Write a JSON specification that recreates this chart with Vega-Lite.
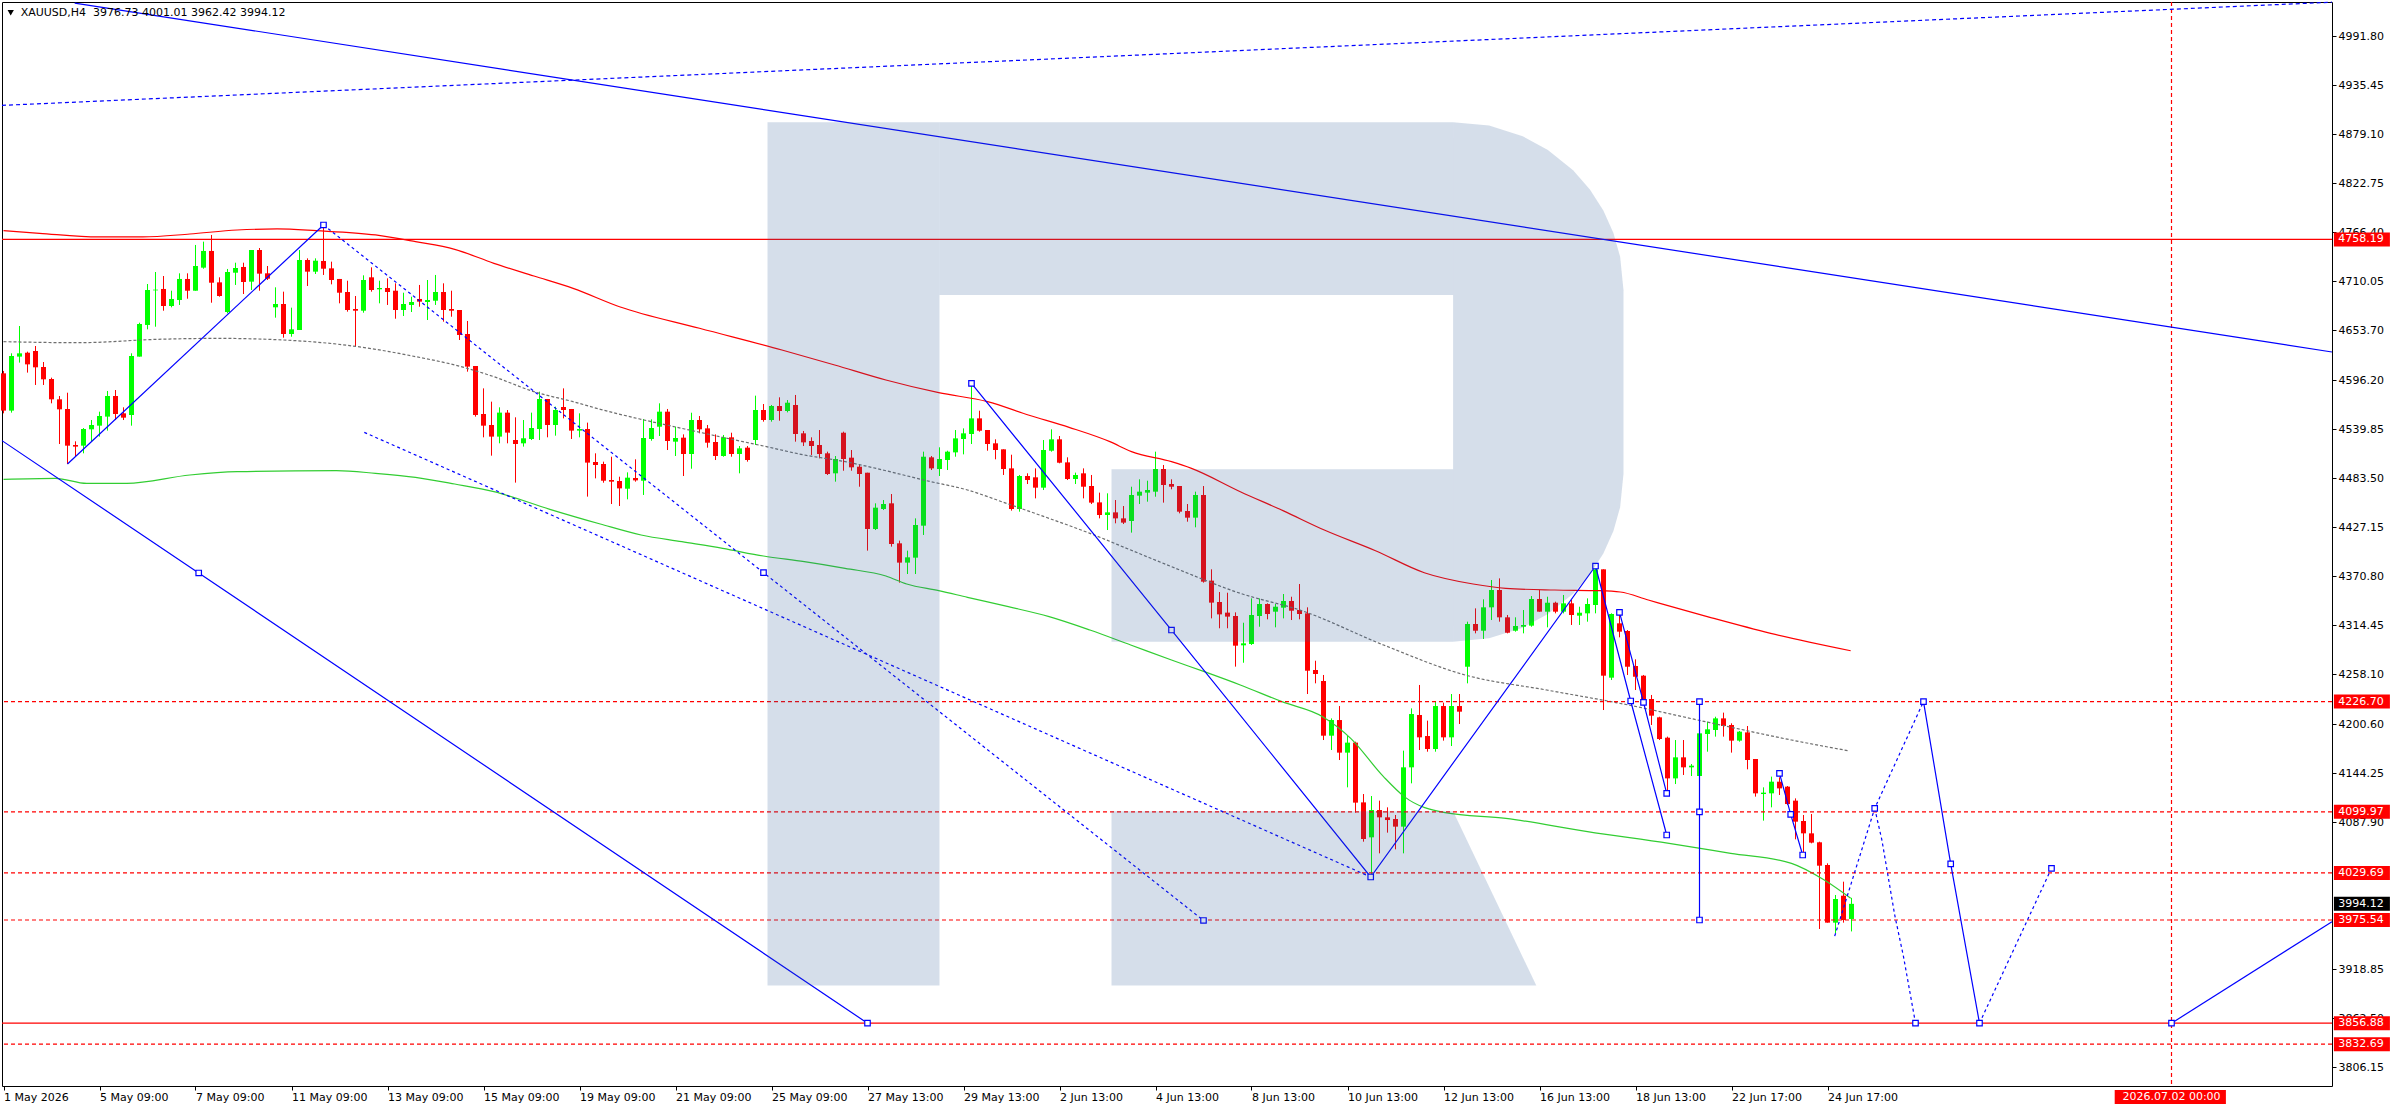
{
"$schema":"https://vega.github.io/schema/vega-lite/v6.json",
"width":2330,"height":1084,
"autosize":{"type":"none"},
"padding":{"left":2,"top":2,"right":64,"bottom":24},
"background":"white",
"config":{"view":{"stroke":"black","strokeWidth":1},"axis":{"labelFont":"DejaVu Sans","labelFontSize":11,"labelColor":"black","tickColor":"black","grid":false,"domain":false}},
"datasets":{
"k":[
{"i":0,"o":4604.2,"h":4606.9,"l":4558.2,"c":4561.3},{"i":1,"o":4561.3,"h":4627.2,"l":4559.0,"c":4624.1},{"i":2,"o":4623.4,"h":4658.6,"l":4616.5,"c":4627.2},{"i":3,"o":4627.9,"h":4629.1,"l":4605.0,"c":4614.5},{"i":4,"o":4629.9,"h":4635.6,"l":4590.8,"c":4611.1},{"i":5,"o":4611.5,"h":4617.2,"l":4590.8,"c":4597.3},{"i":6,"o":4597.7,"h":4599.2,"l":4569.7,"c":4574.3},{"i":7,"o":4574.3,"h":4578.1,"l":4522.9,"c":4562.8},{"i":8,"o":4563.2,"h":4581.9,"l":4499.9,"c":4521.0},{"i":9,"o":4521.8,"h":4526.0,"l":4508.4,"c":4519.9},
{"i":10,"o":4521.0,"h":4541.3,"l":4512.2,"c":4540.2},{"i":11,"o":4539.8,"h":4550.5,"l":4525.6,"c":4544.8},{"i":12,"o":4544.0,"h":4560.1,"l":4531.4,"c":4555.1},{"i":13,"o":4554.4,"h":4583.9,"l":4538.3,"c":4578.1},{"i":14,"o":4578.1,"h":4585.0,"l":4550.5,"c":4557.4},{"i":15,"o":4558.2,"h":4565.1,"l":4550.5,"c":4553.2},{"i":16,"o":4556.3,"h":4627.2,"l":4544.0,"c":4624.1},{"i":17,"o":4623.4,"h":4662.4,"l":4623.4,"c":4660.9},{"i":18,"o":4659.8,"h":4706.9,"l":4654.8,"c":4700.0},{"i":19,"o":4699.6,"h":4720.7,"l":4657.8,"c":4700.4},
{"i":20,"o":4701.2,"h":4716.1,"l":4676.2,"c":4681.6},{"i":21,"o":4681.6,"h":4699.2,"l":4680.1,"c":4689.7},{"i":22,"o":4688.5,"h":4719.2,"l":4682.8,"c":4712.7},{"i":23,"o":4712.7,"h":4719.2,"l":4690.0,"c":4699.2},{"i":24,"o":4699.2,"h":4751.8,"l":4699.2,"c":4727.6},{"i":25,"o":4725.7,"h":4755.6,"l":4724.5,"c":4744.9},{"i":26,"o":4744.9,"h":4763.3,"l":4685.4,"c":4708.4},{"i":27,"o":4708.8,"h":4714.6,"l":4692.3,"c":4693.1},{"i":28,"o":4674.7,"h":4724.2,"l":4673.2,"c":4720.7},{"i":29,"o":4719.9,"h":4731.4,"l":4705.8,"c":4725.3},
{"i":30,"o":4726.5,"h":4731.4,"l":4695.4,"c":4709.2},{"i":31,"o":4709.6,"h":4746.0,"l":4700.0,"c":4746.0},{"i":32,"o":4746.0,"h":4748.3,"l":4699.2,"c":4718.8},{"i":33,"o":4719.2,"h":4727.6,"l":4711.5,"c":4713.0},{"i":34,"o":4680.1,"h":4703.1,"l":4668.2,"c":4683.9},{"i":35,"o":4683.9,"h":4698.1,"l":4645.2,"c":4649.4},{"i":36,"o":4649.4,"h":4679.7,"l":4646.3,"c":4654.8},{"i":37,"o":4654.0,"h":4746.0,"l":4654.0,"c":4734.5},{"i":38,"o":4734.5,"h":4736.4,"l":4704.6,"c":4721.1},{"i":39,"o":4721.1,"h":4736.4,"l":4718.4,"c":4733.7},
{"i":40,"o":4733.4,"h":4774.8,"l":4717.3,"c":4724.5},{"i":41,"o":4724.9,"h":4732.6,"l":4706.5,"c":4711.5},{"i":42,"o":4712.7,"h":4712.7,"l":4684.7,"c":4696.9},{"i":43,"o":4697.7,"h":4710.7,"l":4675.1,"c":4677.0},{"i":44,"o":4678.2,"h":4693.1,"l":4635.6,"c":4676.2},{"i":45,"o":4676.2,"h":4716.9,"l":4673.9,"c":4711.5},{"i":46,"o":4714.6,"h":4726.1,"l":4698.1,"c":4700.0},{"i":47,"o":4700.8,"h":4710.7,"l":4684.7,"c":4702.3},{"i":48,"o":4702.3,"h":4713.4,"l":4682.8,"c":4697.7},{"i":49,"o":4699.2,"h":4707.7,"l":4667.0,"c":4677.0},
{"i":50,"o":4677.0,"h":4696.9,"l":4670.1,"c":4683.9},{"i":51,"o":4682.8,"h":4692.3,"l":4674.7,"c":4686.2},{"i":52,"o":4689.7,"h":4705.8,"l":4680.8,"c":4686.6},{"i":53,"o":4686.2,"h":4711.5,"l":4665.5,"c":4688.5},{"i":54,"o":4687.7,"h":4717.3,"l":4682.8,"c":4697.7},{"i":55,"o":4697.7,"h":4707.7,"l":4663.6,"c":4677.0},{"i":56,"o":4678.2,"h":4699.2,"l":4669.3,"c":4676.2},{"i":57,"o":4677.0,"h":4677.0,"l":4642.5,"c":4648.3},{"i":58,"o":4649.4,"h":4664.4,"l":4606.1,"c":4611.9},{"i":59,"o":4612.6,"h":4612.6,"l":4554.4,"c":4556.3},
{"i":60,"o":4557.4,"h":4586.9,"l":4530.6,"c":4544.0},{"i":61,"o":4544.8,"h":4571.6,"l":4509.5,"c":4531.4},{"i":62,"o":4531.4,"h":4565.1,"l":4523.7,"c":4559.0},{"i":63,"o":4559.0,"h":4562.0,"l":4523.7,"c":4536.0},{"i":64,"o":4527.5,"h":4553.6,"l":4478.5,"c":4522.9},{"i":65,"o":4523.7,"h":4550.5,"l":4519.9,"c":4529.5},{"i":66,"o":4528.7,"h":4559.0,"l":4527.5,"c":4541.3},{"i":67,"o":4540.2,"h":4583.1,"l":4527.5,"c":4574.7},{"i":68,"o":4574.7,"h":4574.7,"l":4530.6,"c":4544.8},{"i":69,"o":4544.8,"h":4565.9,"l":4532.5,"c":4562.0},
{"i":70,"o":4565.5,"h":4586.9,"l":4552.4,"c":4562.0},{"i":71,"o":4563.2,"h":4563.2,"l":4528.7,"c":4538.3},{"i":72,"o":4538.3,"h":4558.2,"l":4530.6,"c":4540.2},{"i":73,"o":4540.2,"h":4547.5,"l":4462.4,"c":4501.5},{"i":74,"o":4502.2,"h":4512.2,"l":4483.4,"c":4498.8},{"i":75,"o":4499.9,"h":4502.6,"l":4478.4,"c":4480.7},{"i":76,"o":4481.5,"h":4508.3,"l":4453.9,"c":4479.6},{"i":77,"o":4480.4,"h":4485.3,"l":4451.6,"c":4471.9},{"i":78,"o":4471.5,"h":4490.3,"l":4459.3,"c":4484.2},{"i":79,"o":4483.8,"h":4505.3,"l":4479.6,"c":4481.1},
{"i":80,"o":4480.7,"h":4551.7,"l":4464.3,"c":4529.8},{"i":81,"o":4528.7,"h":4551.3,"l":4526.7,"c":4541.3},{"i":82,"o":4542.8,"h":4569.7,"l":4532.1,"c":4560.1},{"i":83,"o":4560.1,"h":4563.2,"l":4516.0,"c":4526.4},{"i":84,"o":4525.6,"h":4542.8,"l":4509.1,"c":4529.8},{"i":85,"o":4530.2,"h":4534.0,"l":4486.1,"c":4511.4},{"i":86,"o":4511.4,"h":4558.9,"l":4494.5,"c":4550.5},{"i":87,"o":4550.5,"h":4555.1,"l":4535.2,"c":4539.8},{"i":88,"o":4540.9,"h":4544.8,"l":4518.7,"c":4524.4},{"i":89,"o":4525.2,"h":4534.0,"l":4504.5,"c":4509.1},
{"i":90,"o":4509.1,"h":4533.3,"l":4508.3,"c":4530.6},{"i":91,"o":4530.6,"h":4535.9,"l":4508.3,"c":4511.4},{"i":92,"o":4511.4,"h":4520.6,"l":4489.2,"c":4517.9},{"i":93,"o":4518.7,"h":4520.6,"l":4502.6,"c":4504.5},{"i":94,"o":4527.5,"h":4578.5,"l":4521.8,"c":4562.0},{"i":95,"o":4562.0,"h":4568.9,"l":4548.6,"c":4550.5},{"i":96,"o":4550.5,"h":4567.8,"l":4548.6,"c":4566.6},{"i":97,"o":4566.6,"h":4576.6,"l":4549.7,"c":4560.9},{"i":98,"o":4560.9,"h":4573.5,"l":4559.3,"c":4570.4},{"i":99,"o":4567.8,"h":4579.3,"l":4525.6,"c":4534.4},
{"i":100,"o":4535.2,"h":4537.9,"l":4520.6,"c":4524.8},{"i":101,"o":4526.4,"h":4530.6,"l":4510.3,"c":4520.6},{"i":102,"o":4521.8,"h":4539.0,"l":4506.4,"c":4511.4},{"i":103,"o":4512.2,"h":4514.1,"l":4487.3,"c":4488.4},{"i":104,"o":4489.2,"h":4509.1,"l":4479.6,"c":4505.7},{"i":105,"o":4535.9,"h":4537.1,"l":4492.2,"c":4505.7},{"i":106,"o":4507.2,"h":4516.0,"l":4492.2,"c":4496.1},{"i":107,"o":4496.8,"h":4499.5,"l":4473.8,"c":4488.4},{"i":108,"o":4489.9,"h":4489.9,"l":4400.3,"c":4425.2},{"i":109,"o":4425.2,"h":4454.7,"l":4424.0,"c":4449.7},
{"i":110,"o":4448.2,"h":4458.5,"l":4447.0,"c":4453.9},{"i":111,"o":4454.7,"h":4465.4,"l":4404.9,"c":4407.9},{"i":112,"o":4408.7,"h":4411.8,"l":4363.5,"c":4386.5},{"i":113,"o":4386.5,"h":4400.3,"l":4373.4,"c":4392.6},{"i":114,"o":4392.2,"h":4437.4,"l":4373.4,"c":4429.8},{"i":115,"o":4429.0,"h":4514.1,"l":4418.3,"c":4508.3},{"i":116,"o":4507.6,"h":4509.1,"l":4493.0,"c":4494.9},{"i":117,"o":4494.2,"h":4519.1,"l":4486.1,"c":4505.7},{"i":118,"o":4504.5,"h":4515.2,"l":4493.0,"c":4514.1},{"i":119,"o":4513.3,"h":4539.0,"l":4508.3,"c":4529.4},
{"i":120,"o":4528.7,"h":4540.9,"l":4511.0,"c":4535.2},{"i":121,"o":4534.4,"h":4592.7,"l":4522.9,"c":4552.4},{"i":122,"o":4552.4,"h":4561.2,"l":4537.1,"c":4538.2},{"i":123,"o":4539.0,"h":4539.0,"l":4515.2,"c":4522.9},{"i":124,"o":4523.7,"h":4528.3,"l":4505.3,"c":4516.0},{"i":125,"o":4516.8,"h":4516.8,"l":4487.3,"c":4494.2},{"i":126,"o":4494.9,"h":4510.6,"l":4446.3,"c":4448.2},{"i":127,"o":4448.2,"h":4487.3,"l":4445.1,"c":4486.1},{"i":128,"o":4486.1,"h":4489.2,"l":4476.9,"c":4481.5},{"i":129,"o":4484.6,"h":4494.9,"l":4460.4,"c":4472.7},
{"i":130,"o":4472.7,"h":4527.5,"l":4470.0,"c":4516.0},{"i":131,"o":4515.2,"h":4539.8,"l":4514.1,"c":4528.3},{"i":132,"o":4528.3,"h":4532.1,"l":4500.7,"c":4501.4},{"i":133,"o":4501.8,"h":4507.6,"l":4481.5,"c":4482.7},{"i":134,"o":4482.7,"h":4490.0,"l":4476.9,"c":4487.3},{"i":135,"o":4489.2,"h":4494.9,"l":4460.4,"c":4473.8},{"i":136,"o":4474.6,"h":4487.3,"l":4453.9,"c":4455.5},{"i":137,"o":4455.8,"h":4467.0,"l":4437.4,"c":4441.3},{"i":138,"o":4441.3,"h":4466.2,"l":4424.0,"c":4444.3},{"i":139,"o":4444.3,"h":4458.5,"l":4431.7,"c":4437.4},
{"i":140,"o":4437.4,"h":4451.6,"l":4430.9,"c":4432.5},{"i":141,"o":4434.4,"h":4473.8,"l":4421.0,"c":4464.3},{"i":142,"o":4463.5,"h":4482.3,"l":4453.9,"c":4468.1},{"i":143,"o":4467.0,"h":4480.7,"l":4456.6,"c":4470.0},{"i":144,"o":4468.1,"h":4514.1,"l":4462.3,"c":4494.2},{"i":145,"o":4494.2,"h":4498.8,"l":4455.5,"c":4475.8},{"i":146,"o":4476.9,"h":4482.3,"l":4470.8,"c":4473.8},{"i":147,"o":4474.6,"h":4474.6,"l":4443.2,"c":4445.1},{"i":148,"o":4445.9,"h":4453.9,"l":4433.6,"c":4438.2},{"i":149,"o":4438.2,"h":4468.1,"l":4427.1,"c":4464.3},
{"i":150,"o":4464.3,"h":4474.6,"l":4363.5,"c":4364.6},{"i":151,"o":4365.8,"h":4378.8,"l":4322.4,"c":4340.5},{"i":152,"o":4341.2,"h":4352.7,"l":4311.0,"c":4327.0},{"i":153,"o":4329.0,"h":4351.9,"l":4311.0,"c":4324.4},{"i":154,"o":4325.1,"h":4329.3,"l":4266.9,"c":4291.0},{"i":155,"o":4291.4,"h":4317.4,"l":4271.4,"c":4293.7},{"i":156,"o":4292.9,"h":4345.4,"l":4291.8,"c":4326.3},{"i":157,"o":4325.1,"h":4345.4,"l":4312.8,"c":4338.9},{"i":158,"o":4338.9,"h":4339.7,"l":4321.3,"c":4327.4},{"i":159,"o":4330.1,"h":4338.9,"l":4312.1,"c":4335.8},
{"i":160,"o":4334.7,"h":4350.4,"l":4322.4,"c":4342.4},{"i":161,"o":4342.4,"h":4347.3,"l":4320.5,"c":4331.2},{"i":162,"o":4332.0,"h":4361.9,"l":4321.3,"c":4327.4},{"i":163,"o":4328.2,"h":4335.1,"l":4235.4,"c":4262.2},{"i":164,"o":4263.0,"h":4273.7,"l":4247.7,"c":4258.4},{"i":165,"o":4250.4,"h":4257.3,"l":4182.5,"c":4187.5},{"i":166,"o":4187.5,"h":4207.4,"l":4171.0,"c":4205.5},{"i":167,"o":4205.5,"h":4221.6,"l":4159.5,"c":4168.0},{"i":168,"o":4168.0,"h":4187.1,"l":4128.1,"c":4179.5},{"i":169,"o":4179.5,"h":4180.6,"l":4099.0,"c":4110.5},
{"i":170,"o":4110.8,"h":4120.4,"l":4065.6,"c":4068.7},{"i":171,"o":4070.6,"h":4118.1,"l":4025.0,"c":4102.0},{"i":172,"o":4102.0,"h":4112.8,"l":4052.2,"c":4093.6},{"i":173,"o":4093.6,"h":4105.1,"l":4076.0,"c":4090.5},{"i":174,"o":4091.7,"h":4096.3,"l":4056.8,"c":4082.9},{"i":175,"o":4082.9,"h":4170.3,"l":4052.2,"c":4151.1},{"i":176,"o":4151.1,"h":4218.9,"l":4132.7,"c":4212.4},{"i":177,"o":4211.3,"h":4245.8,"l":4171.0,"c":4185.6},{"i":178,"o":4187.1,"h":4204.8,"l":4169.1,"c":4172.2},{"i":179,"o":4172.2,"h":4226.6,"l":4169.1,"c":4221.6},
{"i":180,"o":4221.6,"h":4225.5,"l":4181.8,"c":4185.6},{"i":181,"o":4185.6,"h":4235.4,"l":4175.6,"c":4221.6},{"i":182,"o":4221.6,"h":4235.4,"l":4200.9,"c":4215.1},{"i":183,"o":4266.8,"h":4318.6,"l":4247.7,"c":4315.9},{"i":184,"o":4315.9,"h":4333.9,"l":4305.2,"c":4308.2},{"i":185,"o":4308.2,"h":4344.3,"l":4298.7,"c":4335.1},{"i":186,"o":4335.1,"h":4366.5,"l":4320.5,"c":4355.0},{"i":187,"o":4355.0,"h":4368.4,"l":4318.6,"c":4323.6},{"i":188,"o":4323.6,"h":4326.3,"l":4305.2,"c":4305.9},{"i":189,"o":4308.2,"h":4323.6,"l":4307.1,"c":4313.6},
{"i":190,"o":4312.8,"h":4332.0,"l":4305.2,"c":4314.8},{"i":191,"o":4314.0,"h":4348.1,"l":4312.8,"c":4344.7},{"i":192,"o":4344.7,"h":4355.0,"l":4330.1,"c":4330.1},{"i":193,"o":4330.1,"h":4347.3,"l":4312.1,"c":4340.4},{"i":194,"o":4340.4,"h":4341.6,"l":4328.2,"c":4330.1},{"i":195,"o":4330.1,"h":4349.3,"l":4328.2,"c":4339.7},{"i":196,"o":4339.7,"h":4343.5,"l":4314.8,"c":4326.3},{"i":197,"o":4325.5,"h":4335.8,"l":4314.8,"c":4328.9},{"i":198,"o":4328.2,"h":4345.4,"l":4318.6,"c":4338.9},{"i":199,"o":4337.8,"h":4382.6,"l":4328.2,"c":4378.8},
{"i":200,"o":4378.8,"h":4378.8,"l":4217.0,"c":4256.5},{"i":201,"o":4254.2,"h":4328.2,"l":4251.5,"c":4327.4},{"i":202,"o":4316.7,"h":4327.4,"l":4300.6,"c":4307.1},{"i":203,"o":4307.9,"h":4309.0,"l":4257.3,"c":4266.8},{"i":204,"o":4267.6,"h":4275.3,"l":4240.0,"c":4255.3},{"i":205,"o":4256.5,"h":4257.3,"l":4225.5,"c":4227.8},{"i":206,"o":4229.7,"h":4234.3,"l":4199.8,"c":4210.5},{"i":207,"o":4208.6,"h":4209.3,"l":4182.5,"c":4183.7},{"i":208,"o":4185.2,"h":4186.4,"l":4125.0,"c":4138.4},{"i":209,"o":4138.4,"h":4182.5,"l":4131.9,"c":4162.6},
{"i":210,"o":4162.6,"h":4182.5,"l":4142.3,"c":4151.1},{"i":211,"o":4151.1,"h":4154.9,"l":4141.1,"c":4153.0},{"i":212,"o":4141.1,"h":4192.1,"l":4141.1,"c":4190.2},{"i":213,"o":4189.4,"h":4203.6,"l":4169.1,"c":4194.8},{"i":214,"o":4194.0,"h":4209.3,"l":4186.4,"c":4207.4},{"i":215,"o":4207.4,"h":4214.0,"l":4186.4,"c":4198.6},{"i":216,"o":4199.8,"h":4201.7,"l":4168.0,"c":4181.8},{"i":217,"o":4181.8,"h":4192.9,"l":4180.6,"c":4192.1},{"i":218,"o":4191.3,"h":4198.6,"l":4148.8,"c":4159.5},{"i":219,"o":4160.7,"h":4160.7,"l":4117.4,"c":4121.2},
{"i":220,"o":4120.4,"h":4128.1,"l":4089.8,"c":4122.0},{"i":221,"o":4121.2,"h":4140.4,"l":4105.1,"c":4134.6},{"i":222,"o":4134.6,"h":4139.6,"l":4119.3,"c":4126.9},{"i":223,"o":4128.9,"h":4129.6,"l":4107.8,"c":4108.9},{"i":224,"o":4112.8,"h":4115.4,"l":4068.3,"c":4088.6},{"i":225,"o":4089.4,"h":4096.3,"l":4053.0,"c":4075.2},{"i":226,"o":4075.2,"h":4097.4,"l":4063.7,"c":4064.5},{"i":227,"o":4064.9,"h":4065.6,"l":3965.2,"c":4038.0},{"i":228,"o":4038.8,"h":4040.7,"l":3972.5,"c":3972.5},{"i":229,"o":3972.5,"h":4004.3,"l":3960.2,"c":3999.7},
{"i":230,"o":4003.5,"h":4019.6,"l":3972.5,"c":3975.5},{"i":231,"o":3976.73,"h":4001.01,"l":3962.42,"c":3994.12}
],
"mr":[{"i":0,"p":4768.2},{"i":4.5,"p":4765.2},{"i":11.9,"p":4761.0},{"i":17.4,"p":4761.0},{"i":23.3,"p":4764.4},{"i":29.2,"p":4769.0},{"i":34.2,"p":4770.2},{"i":39.1,"p":4768.2},{"i":46.5,"p":4763.3},{"i":51.5,"p":4755.6},{"i":56.4,"p":4746.8},{"i":61.3,"p":4730.7},{"i":66.3,"p":4716.1},{"i":71.2,"p":4701.9},{"i":77,"p":4680.8},{"i":87,"p":4656},{"i":97.3,"p":4631.0},{"i":103.9,"p":4613.8},{"i":110.3,"p":4596.5},{"i":116.9,"p":4581.9},{"i":123,"p":4571.6},{"i":128.1,"p":4556.3},{"i":133.2,"p":4542.1},{"i":138.3,"p":4525.6},{"i":141,"p":4514.1},{"i":146,"p":4502.6},{"i":148.5,"p":4494.9},{"i":154.6,"p":4468.1},{"i":160,"p":4446},{"i":165.1,"p":4424.0},{"i":171.5,"p":4400.2},{"i":177.6,"p":4374.9},{"i":183.7,"p":4361.9},{"i":187.8,"p":4356.9},{"i":193.9,"p":4355.0},{"i":199.5,"p":4354.2},{"i":202.1,"p":4352.7},{"i":205.6,"p":4343.5},{"i":213.3,"p":4323.6},{"i":220.9,"p":4305.2},{"i":230.9,"p":4285.2}],
"mk":[{"i":0,"p":4640.6},{"i":9.4,"p":4639.4},{"i":19.3,"p":4643.3},{"i":26.8,"p":4644.4},{"i":31.7,"p":4643.7},{"i":36.6,"p":4641.7},{"i":41.6,"p":4637.9},{"i":46.5,"p":4631.8},{"i":51.5,"p":4623.4},{"i":56.4,"p":4613.8},{"i":61.3,"p":4600.3},{"i":66.3,"p":4583.1},{"i":71.2,"p":4571.6},{"i":74.6,"p":4562.8},{"i":79.7,"p":4551.3},{"i":84.8,"p":4540.9},{"i":89.9,"p":4530.6},{"i":95,"p":4520.6},{"i":100.1,"p":4510.3},{"i":105.2,"p":4502.6},{"i":110.3,"p":4492.2},{"i":115.4,"p":4480.7},{"i":120.5,"p":4470.0},{"i":125.6,"p":4453.9},{"i":130.7,"p":4437.4},{"i":135.8,"p":4420.2},{"i":140.9,"p":4401.0},{"i":146,"p":4381.9},{"i":154.6,"p":4351.2},{"i":162.3,"p":4331.2},{"i":172.5,"p":4291.8},{"i":182.7,"p":4257.3},{"i":192.9,"p":4240.0},{"i":203.1,"p":4222.8},{"i":213.3,"p":4202.5},{"i":223.5,"p":4182.5},{"i":230.6,"p":4170.2}],
"mg":[{"i":0,"p":4482.3},{"i":6.5,"p":4483.5},{"i":10.4,"p":4477.7},{"i":15.4,"p":4477.7},{"i":23.3,"p":4487.3},{"i":29.2,"p":4491.1},{"i":41.6,"p":4492.3},{"i":46.5,"p":4489.2},{"i":51.5,"p":4484.6},{"i":56.4,"p":4476.9},{"i":61.3,"p":4468.1},{"i":68.3,"p":4447.8},{"i":74.6,"p":4430.9},{"i":79.7,"p":4418.3},{"i":84.8,"p":4410.6},{"i":89.9,"p":4402.9},{"i":95,"p":4394.1},{"i":100.1,"p":4387.6},{"i":105.2,"p":4379.9},{"i":110.3,"p":4371.1},{"i":112.9,"p":4361.9},{"i":116.9,"p":4354.3},{"i":120.5,"p":4346.6},{"i":125.6,"p":4335.9},{"i":130.7,"p":4324.4},{"i":135.8,"p":4309.0},{"i":140.9,"p":4291.8},{"i":146,"p":4274.5},{"i":150.1,"p":4261.1},{"i":154.6,"p":4245.8},{"i":159.8,"p":4226.6},{"i":164.9,"p":4209.3},{"i":168.4,"p":4184.4},{"i":172.5,"p":4140.4},{"i":175.1,"p":4117.4},{"i":180.2,"p":4099.0},{"i":187.8,"p":4092.4},{"i":198,"p":4077.1},{"i":208.2,"p":4063.7},{"i":215.9,"p":4052.2},{"i":223.5,"p":4040.7},{"i":227.6,"p":4021.5},{"i":230.9,"p":4000.5}],
"ts":[{"g":"t1","k":0,"i":8.9,"p":5030},{"g":"t1","k":1,"i":291.06,"p":4628.7},
{"g":"t2","k":0,"i":-0.19,"p":4526.8},{"g":"t2","k":1,"i":24.4,"p":4374.6},{"g":"t2","k":2,"i":108,"p":3856.88},
{"g":"z1","k":0,"i":8,"p":4499.9},{"g":"z1","k":1,"i":40,"p":4774.8},
{"g":"z2","k":0,"i":121,"p":4592.7},{"g":"z2","k":1,"i":146,"p":4309},{"g":"z2","k":2,"i":170.9,"p":4025},{"g":"z2","k":3,"i":199,"p":4382.6},
{"g":"z3","k":0,"i":199,"p":4382.6},{"g":"z3","k":1,"i":203.4,"p":4227.4},{"g":"z3","k":2,"i":207.9,"p":4073.3},
{"g":"z4","k":0,"i":202,"p":4329.3},{"g":"z4","k":1,"i":205,"p":4225.8},{"g":"z4","k":2,"i":207.9,"p":4121.2},
{"g":"z5","k":0,"i":212,"p":4226.7},{"g":"z5","k":1,"i":212,"p":3975.54},
{"g":"z6","k":0,"i":222,"p":4144.2},{"g":"z6","k":1,"i":223.4,"p":4097},{"g":"z6","k":2,"i":224.9,"p":4050.3},
{"g":"f1","k":0,"i":240,"p":4226.7},{"g":"f1","k":1,"i":243.4,"p":4040},{"g":"f1","k":2,"i":247,"p":3856.88},
{"g":"f2","k":0,"i":271,"p":3856.88},{"g":"f2","k":1,"i":291.06,"p":3973.6}],
"td":[{"g":"d1","k":0,"i":40,"p":4774.8},{"g":"d1","k":1,"i":95,"p":4375},{"g":"d1","k":2,"i":150,"p":3975},
{"g":"d2","k":0,"i":45.1,"p":4536.3},{"g":"d2","k":1,"i":170.9,"p":4025},
{"g":"p1","k":0,"i":228.9,"p":3957},{"g":"p1","k":1,"i":233.9,"p":4103.9},{"g":"p1","k":2,"i":240,"p":4226.7},
{"g":"p2","k":0,"i":233.9,"p":4103.9},{"g":"p2","k":1,"i":234.8,"p":4067.5},{"g":"p2","k":2,"i":236.4,"p":3981.3},{"g":"p2","k":3,"i":237.5,"p":3933.4},{"g":"p2","k":4,"i":239,"p":3856.88},
{"g":"p3","k":0,"i":247,"p":3856.88},{"g":"p3","k":1,"i":256,"p":4035}],
"tt":[{"g":"t3","k":0,"i":-0.19,"p":4912.3},{"g":"t3","k":1,"i":291.06,"p":5031.0}],
"sq":[{"i":24.4,"p":4374.6},{"i":108,"p":3856.88},{"i":40,"p":4774.8},{"i":95,"p":4375},{"i":150,"p":3975},{"i":121,"p":4592.7},{"i":146,"p":4309},{"i":170.9,"p":4025},{"i":199,"p":4382.6},{"i":203.4,"p":4227.4},{"i":207.9,"p":4073.3},{"i":202,"p":4329.3},{"i":205,"p":4225.8},{"i":207.9,"p":4121.2},{"i":212,"p":4226.7},{"i":212,"p":4099.97},{"i":212,"p":3975.54},{"i":222,"p":4144.2},{"i":223.4,"p":4097},{"i":224.9,"p":4050.3},{"i":233.9,"p":4103.9},{"i":240,"p":4226.7},{"i":243.4,"p":4040},{"i":247,"p":3856.88},{"i":239,"p":3856.88},{"i":256,"p":4035},{"i":271,"p":3856.88}],
"wr":[{"a":95.5,"b":117.0,"lo":3900.2,"hi":4893.0},{"a":117.0,"b":181.2,"lo":4694.4,"hi":4893.0},{"a":138.5,"b":181.2,"lo":4295.5,"hi":4494.0}],
"wa":[{"g":"bowl","i":181.2,"t":4893.0,"b":4295.5},{"g":"bowl","i":185.7,"t":4889.1,"b":4299.4},{"g":"bowl","i":189.9,"t":4876.9,"b":4311.6},{"g":"bowl","i":193.05,"t":4861.1,"b":4327.4},{"g":"bowl","i":196.2,"t":4837.7,"b":4350.8},{"g":"bowl","i":198.3,"t":4815.7,"b":4372.8},{"g":"bowl","i":199.98,"t":4791.5,"b":4397.0},{"g":"bowl","i":201.24,"t":4765.7,"b":4422.8},{"g":"bowl","i":202.08,"t":4738.2,"b":4450.3},{"g":"bowl","i":202.5,"t":4699.7,"b":4488.8},
{"g":"leg","i":138.5,"t":4100.5,"b":3900.2},{"g":"leg","i":181.2,"t":4100.5,"b":3900.2},{"g":"leg","i":191.6,"t":3900.2,"b":3900.2}],
"lb":[{"v":4758.19,"t":"4758.19"},{"v":4226.70,"t":"4226.70"},{"v":4099.97,"t":"4099.97"},{"v":4029.69,"t":"4029.69"},{"v":3994.12,"t":"3994.12"},{"v":3975.54,"t":"3975.54"},{"v":3856.88,"t":"3856.88"},{"v":3832.69,"t":"3832.69"}]
},
"layer":[
{"data":{"name":"k"},"mark":{"type":"rule","strokeWidth":1},
 "encoding":{
  "x":{"field":"i","type":"quantitative","scale":{"domain":[-0.1875,291.0625],"nice":false,"zero":false},
   "axis":{"title":null,"orient":"bottom","values":[0,12,24,36,48,60,72,84,96,108,120,132,144,156,168,180,192,204,216,228],
   "labelExpr":"['1 May 2026','5 May 09:00','7 May 09:00','11 May 09:00','13 May 09:00','15 May 09:00','19 May 09:00','21 May 09:00','25 May 09:00','27 May 13:00','29 May 13:00','2 Jun 13:00','4 Jun 13:00','8 Jun 13:00','10 Jun 13:00','12 Jun 13:00','16 Jun 13:00','18 Jun 13:00','22 Jun 17:00','24 Jun 17:00'][round(datum.value/12)]",
   "labelAlign":"left","labelBaseline":"top","labelPadding":1,"tickSize":4,"labelFlush":false,"labelOverlap":false,"labelBound":false}},
  "y":{"field":"l","type":"quantitative","scale":{"domain":[3784.65,5031.2],"nice":false,"zero":false},
   "axis":{"title":null,"orient":"right","values":[4991.8,4935.45,4879.1,4822.75,4766.4,4710.05,4653.7,4596.2,4539.85,4483.5,4427.15,4370.8,4314.45,4258.1,4200.6,4144.25,4087.9,3918.85,3862.5,3806.15],
   "labelExpr":"format(datum.value,'.2f')","tickSize":4,"labelPadding":2,"labelOverlap":false,"labelFlush":false,"labelBound":false}},
  "y2":{"field":"h"},
  "color":{"condition":{"test":"datum.c >= datum.o","value":"#00FF00"},"value":"#FF0000"}}},
{"data":{"name":"k"},"mark":{"type":"rule","strokeWidth":5,"strokeCap":"butt"},
 "encoding":{"x":{"field":"i","type":"quantitative","title":null},"y":{"field":"o","type":"quantitative","title":null},"y2":{"field":"c"},
  "color":{"condition":{"test":"datum.c >= datum.o","value":"#00FF00"},"value":"#FF0000"}}},
{"data":{"name":"mr"},"mark":{"type":"line","color":"#FF0000","strokeWidth":1.2,"interpolate":"monotone"},
 "encoding":{"x":{"field":"i","type":"quantitative","title":null},"y":{"field":"p","type":"quantitative","title":null}}},
{"data":{"name":"mk"},"mark":{"type":"line","color":"#6E6E6E","strokeWidth":1.2,"strokeDash":[3,2],"interpolate":"monotone"},
 "encoding":{"x":{"field":"i","type":"quantitative","title":null},"y":{"field":"p","type":"quantitative","title":null}}},
{"data":{"name":"mg"},"mark":{"type":"line","color":"#32CD32","strokeWidth":1.2,"interpolate":"monotone"},
 "encoding":{"x":{"field":"i","type":"quantitative","title":null},"y":{"field":"p","type":"quantitative","title":null}}},
{"data":{"values":[{"v":4758.19},{"v":3856.88}]},"mark":{"type":"rule","color":"#FF0000","strokeWidth":1.2},
 "encoding":{"y":{"field":"v","type":"quantitative","title":null}}},
{"data":{"values":[{"v":4226.70},{"v":4099.97},{"v":4029.69},{"v":3975.54},{"v":3832.69}]},"mark":{"type":"rule","color":"#FF0000","strokeWidth":1.2,"strokeDash":[4,3]},
 "encoding":{"y":{"field":"v","type":"quantitative","title":null}}},
{"data":{"values":[{"d":"2026.07.02 00:00","v":271}]},"mark":{"type":"rule","color":"#FF0000","strokeWidth":1.2,"strokeDash":[4,3]},
 "encoding":{"x":{"field":"v","type":"quantitative","title":null}}},
{"data":{"name":"ts"},"mark":{"type":"line","color":"#0000FF","strokeWidth":1.2},
 "encoding":{"x":{"field":"i","type":"quantitative","title":null},"y":{"field":"p","type":"quantitative","title":null},"detail":{"field":"g"},"order":{"field":"k"}}},
{"data":{"name":"td"},"mark":{"type":"line","color":"#0000FF","strokeWidth":1.2,"strokeDash":[3,3]},
 "encoding":{"x":{"field":"i","type":"quantitative","title":null},"y":{"field":"p","type":"quantitative","title":null},"detail":{"field":"g"},"order":{"field":"k"}}},
{"data":{"name":"tt"},"mark":{"type":"line","color":"#0000FF","strokeWidth":1.2,"strokeDash":[4,3]},
 "encoding":{"x":{"field":"i","type":"quantitative","title":null},"y":{"field":"p","type":"quantitative","title":null},"detail":{"field":"g"},"order":{"field":"k"}}},
{"data":{"name":"sq"},"mark":{"type":"point","shape":"square","size":30,"filled":true,"fill":"white","stroke":"#0000FF","strokeWidth":1.2,"opacity":1},
 "encoding":{"x":{"field":"i","type":"quantitative","title":null},"y":{"field":"p","type":"quantitative","title":null}}},
{"data":{"values":[{"t":"XAUUSD,H4\u00a0\u00a03976.73 4001.01 3962.42 3994.12"}]},"mark":{"type":"text","align":"left","baseline":"middle","font":"DejaVu Sans","fontSize":11,"color":"black"},
 "encoding":{"x":{"datum":2.15,"type":"quantitative"},"y":{"datum":5018.5,"type":"quantitative"},"text":{"field":"t"}}},
{"data":{"values":[{"s":"menu"}]},"mark":{"type":"point","shape":"triangle-down","size":40,"filled":true,"color":"black","opacity":1},
 "encoding":{"x":{"datum":0.9,"type":"quantitative"},"y":{"datum":5018.8,"type":"quantitative"}}},
{"data":{"name":"wr"},"mark":{"type":"rect","color":"#2D5A96","opacity":0.2},
 "encoding":{"x":{"field":"a","type":"quantitative","title":null},"x2":{"field":"b"},"y":{"field":"lo","type":"quantitative","title":null},"y2":{"field":"hi"}}},
{"data":{"name":"wa"},"mark":{"type":"area","color":"#2D5A96","opacity":0.2},
 "encoding":{"x":{"field":"i","type":"quantitative","title":null},"y":{"field":"t","type":"quantitative","title":null},"y2":{"field":"b"},"detail":{"field":"g"}}},
{"data":{"name":"lb"},"mark":{"type":"rule","strokeWidth":14,"strokeCap":"butt"},
 "encoding":{"x":{"datum":291.3,"type":"quantitative"},"x2":{"datum":298.3},"y":{"field":"v","type":"quantitative","title":null},
  "color":{"condition":{"test":"datum.t === '3994.12'","value":"#000000"},"value":"#FF0000"}}},
{"data":{"name":"lb"},"mark":{"type":"text","align":"left","baseline":"middle","font":"DejaVu Sans","fontSize":11,"color":"white"},
 "encoding":{"x":{"datum":291.85,"type":"quantitative"},"y":{"field":"v","type":"quantitative","title":null},"text":{"field":"t"}}},
{"data":{"values":[{"t":"2026.07.02 00:00"}]},"mark":{"type":"rule","strokeWidth":14,"strokeCap":"butt","color":"#FF0000"},
 "encoding":{"x":{"datum":263.9,"type":"quantitative"},"x2":{"datum":277.8},"y":{"datum":3772.0,"type":"quantitative"}}},
{"data":{"values":[{"t":"2026.07.02 00:00"}]},"mark":{"type":"text","align":"center","baseline":"middle","font":"DejaVu Sans","fontSize":11,"color":"white"},
 "encoding":{"x":{"datum":271,"type":"quantitative"},"y":{"datum":3772.0,"type":"quantitative"},"text":{"field":"t"}}}
]
}
